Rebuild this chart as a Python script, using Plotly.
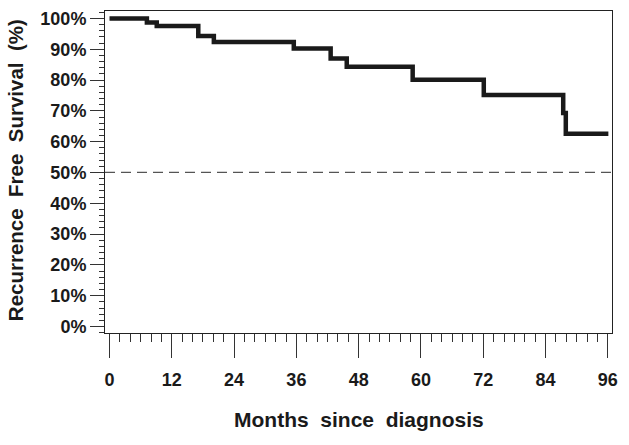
import plotly.graph_objects as go

# Kaplan-Meier step data (months, % recurrence free)
months = [0, 7.2, 9.1, 17.1, 20.1, 35.5, 42.6, 45.7, 58.4, 72.1, 87.4, 87.9, 96.1]
survival = [100, 98.7, 97.5, 94.3, 92.3, 90.2, 87.0, 84.3, 80.1, 75.1, 69.3, 62.6, 62.6]

x_ticks = [0, 12, 24, 36, 48, 60, 72, 84, 96]
y_ticks = [0, 10, 20, 30, 40, 50, 60, 70, 80, 90, 100]
y_tick_labels = [f"{v}%" for v in y_ticks]
reference_level = 50

ink = "#1a1a1a"
font_family = "Liberation Sans, Arial, Helvetica, sans-serif"

fig = go.Figure()
fig.add_trace(go.Scatter(
    x=months, y=survival, mode="lines",
    line=dict(shape="hv", width=4.5, color=ink),
    hoverinfo="skip", showlegend=False,
))

fig.add_shape(type="line", xref="paper", yref="y", x0=0, x1=1,
              y0=reference_level, y1=reference_level,
              line=dict(color="#555555", width=1.2, dash="10px,6px"))

fig.update_layout(
    width=629, height=445,
    margin=dict(l=105, r=17, t=9, b=112),
    paper_bgcolor="white", plot_bgcolor="white",
    font=dict(family=font_family, color=ink),
    hovermode=False,
    xaxis=dict(
        range=[-0.87, 96.8], tickmode="array", tickvals=x_ticks,
        ticktext=[str(v) for v in x_ticks],
        ticks="outside", ticklen=24, tickwidth=1, tickcolor="#333333",
        minor=dict(dtick=2, tick0=0, ticks="outside", ticklen=8,
                   tickwidth=1, tickcolor="#333333"),
        showline=True, linecolor="#222222", linewidth=1, mirror=True,
        showgrid=False, zeroline=False,
        tickfont=dict(size=18, family=font_family, color=ink, weight="bold"),
        ticklabelstandoff=6,
    ),
    yaxis=dict(
        range=[-2.1, 102.4], tickmode="array", tickvals=y_ticks,
        ticktext=y_tick_labels,
        ticks="outside", ticklen=14, tickwidth=1, tickcolor="#333333",
        minor=dict(dtick=2, tick0=0, ticks="outside", ticklen=5,
                   tickwidth=1, tickcolor="#333333"),
        showline=True, linecolor="#222222", linewidth=1, mirror=True,
        showgrid=False, zeroline=False,
        tickfont=dict(size=18, family=font_family, color=ink, weight="bold"),
    ),
    annotations=[
        dict(text="<b>Months\u00a0 since\u00a0 diagnosis</b>", xref="paper", yref="paper",
             x=0.5, y=-0.268, xanchor="center", yanchor="middle", showarrow=False,
             font=dict(size=21, family=font_family, color=ink)),
        dict(text="<b>Recurrence\u00a0 Free\u00a0 Survival\u00a0 (%)</b>", xref="paper", yref="paper",
             x=-0.176, y=0.505, xanchor="center", yanchor="middle", showarrow=False,
             textangle=-90, font=dict(size=20.5, family=font_family, color=ink)),
    ],
)

fig.write_html("out.html", config={"displayModeBar": False},
               post_script="document.body.style.margin='0';")
